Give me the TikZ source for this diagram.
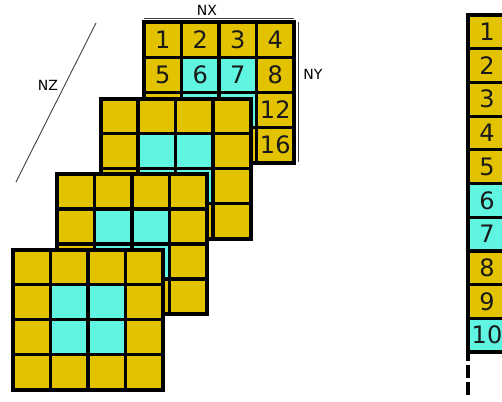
\documentclass[tikz,border=0pt]{standalone}
\usepackage{fontspec}
\setmainfont{DejaVu Sans}
\definecolor{gold}{HTML}{E3C300}
\definecolor{aqua}{HTML}{5FF5E0}
\newcommand{\gridlayer}[2]{%
  \begin{scope}[shift={(#1,#2)}]
    \fill[gold] (0,0) rectangle (150,140);
    \fill[aqua] (37.5,35) rectangle (112.5,105);
    \foreach \i in {1,2,3} {
      \draw[inner] (37.5*\i,0) -- (37.5*\i,140);
      \draw[inner] (0,35*\i) -- (150,35*\i);
    }
    \draw[outer] (0,0) rectangle (150,140);
  \end{scope}}
\begin{document}
\begin{tikzpicture}[x=1pt,y=-1pt,
  num/.style={font=\fontsize{24}{24}\selectfont, text=black!90, inner sep=0pt},
  lbl/.style={font=\fontsize{14}{14}\selectfont, inner sep=0pt},
  dim/.style={line width=0.9pt, black!75},
  inner/.style={line width=3.2pt, black},
  outer/.style={line width=4pt, black, line join=miter}]
\useasboundingbox (0,0) rectangle (502,401);
\clip (0,0) rectangle (502,401);

% dimension marks
\coordinate (nx1) at (144,18); \coordinate (nx2) at (294,18);
\draw[dim] (nx1) -- (nx2);
\node[lbl] (nx) at (207,10) {NX};
\coordinate (ny1) at (298,22); \coordinate (ny2) at (298,162);
\draw[dim] (ny1) -- (ny2);
\node[lbl] (ny) at (313,74.5) {NY};
\coordinate (nz1) at (96,23); \coordinate (nz2) at (16,182);
\draw[dim] (nz1) -- (nz2);
\node[lbl] (nz) at (48,85) {NZ};

% layers, back to front
\gridlayer{144}{22.5}
\foreach \n/\c/\r in {1/1/1,2/2/1,3/3/1,4/4/1,5/1/2,6/2/2,7/3/2,8/4/2,12/4/3,16/4/4}
  \node[num] (c\n) at ({144+37.5*(\c-0.5)},{22.5+35*(\r-0.5)}) {\n};
\gridlayer{100.5}{98.5}
\gridlayer{57}{174}
\gridlayer{13}{249.5}

% linear column
\begin{scope}
  \foreach \k in {1,...,10} {
    \pgfmathsetmacro{\ya}{15+33.7*(\k-1)}
    \pgfmathsetmacro{\yb}{15+33.7*\k}
    \ifnum\k=6 \def\cc{aqua}\else\ifnum\k=7 \def\cc{aqua}\else\ifnum\k=10 \def\cc{aqua}\else\def\cc{gold}\fi\fi\fi
    \fill[\cc] (468,\ya) rectangle (508,\yb);
    \node[num] (l\k) at (487,{(\ya+\yb)/2}) {\k};
  }
  \foreach \k in {1,...,10} \draw[inner] (468,{15+33.7*\k}) -- (508,{15+33.7*\k});
  \draw[outer] (508,15) -- (468,15) -- (468,352);
  \coordinate (d1) at (468,352); \coordinate (d2) at (468,398);
  \draw[outer, dash pattern=on 13pt off 4pt, dash phase=4pt] (d1) -- (d2);
\end{scope}
\end{tikzpicture}
\end{document}
